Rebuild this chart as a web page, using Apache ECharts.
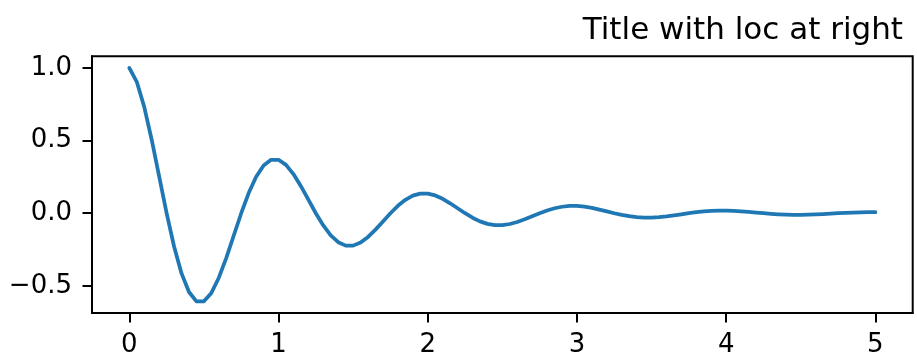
<!DOCTYPE html>
<html>
<head>
<meta charset="utf-8">
<script src="https://cdn.jsdelivr.net/npm/echarts@6/dist/echarts.min.js"></script>
<style>
html,body{margin:0;padding:0;background:#fff;}
#chart{width:917px;height:358px;}
</style>
</head>
<body>
<div id="chart"></div>
<script>
var titleText = 'Title with loc at right';
var xs = [0, 0.05, 0.1, 0.15, 0.2, 0.25, 0.3, 0.35, 0.4, 0.45, 0.5, 0.55, 0.6, 0.65, 0.7, 0.75, 0.8, 0.85, 0.9, 0.95,
  1, 1.05, 1.1, 1.15, 1.2, 1.25, 1.3, 1.35, 1.4, 1.45, 1.5, 1.55, 1.6, 1.65, 1.7, 1.75, 1.8, 1.85, 1.9, 1.95,
  2, 2.05, 2.1, 2.15, 2.2, 2.25, 2.3, 2.35, 2.4, 2.45, 2.5, 2.55, 2.6, 2.65, 2.7, 2.75, 2.8, 2.85, 2.9, 2.95,
  3, 3.05, 3.1, 3.15, 3.2, 3.25, 3.3, 3.35, 3.4, 3.45, 3.5, 3.55, 3.6, 3.65, 3.7, 3.75, 3.8, 3.85, 3.9, 3.95,
  4, 4.05, 4.1, 4.15, 4.2, 4.25, 4.3, 4.35, 4.4, 4.45, 4.5, 4.55, 4.6, 4.65, 4.7, 4.75, 4.8, 4.85, 4.9, 4.95, 5];
var ys = [1, 0.9047, 0.7320, 0.5059, 0.2530, 0, -0.2289, -0.4142, -0.5423, -0.6064, -0.6065, -0.5487, -0.4440, -0.3069, -0.1535, 0, 0.1389, 0.2512, 0.3289, 0.3678,
  0.3679, 0.3328, 0.2693, 0.1861, 0.0931, 0, -0.0842, -0.1524, -0.1995, -0.2231, -0.2231, -0.2019, -0.1633, -0.1129, -0.0565, 0, 0.0511, 0.0924, 0.1210, 0.1353,
  0.1353, 0.1224, 0.0991, 0.0685, 0.0342, 0, -0.0310, -0.0561, -0.0734, -0.0821, -0.0821, -0.0743, -0.0601, -0.0415, -0.0208, 0, 0.0188, 0.0340, 0.0445, 0.0498,
  0.0498, 0.0450, 0.0365, 0.0252, 0.0126, 0, -0.0114, -0.0206, -0.0270, -0.0302, -0.0302, -0.0273, -0.0221, -0.0153, -0.0076, 0, 0.0069, 0.0125, 0.0164, 0.0183,
  0.0183, 0.0166, 0.0134, 0.0093, 0.0046, 0, -0.0042, -0.0076, -0.0099, -0.0111, -0.0111, -0.0101, -0.0081, -0.0056, -0.0028, 0, 0.0025, 0.0046, 0.0060, 0.0067, 0.0067];
var xTicks = [0, 1, 2, 3, 4, 5];
var yTicks = [-0.5, 0, 0.5, 1.0];
var xRange = [-0.25, 5.25];
var yRange = [-0.6869, 1.0803];

var data = xs.map(function (x, i) { return [x, ys[i]]; });
var font = 'DejaVu Sans';

var chart = echarts.init(document.getElementById('chart'), null, {renderer: 'canvas'});
chart.setOption({
  animation: false,
  backgroundColor: '#ffffff',
  title: {
    text: titleText,
    right: 9,
    top: 10,
    textStyle: {fontFamily: font, fontSize: 31, fontWeight: 'normal', color: '#000'}
  },
  grid: {
    left: 92, right: 4.3, top: 56.3, bottom: 43,
    show: true, borderColor: '#000', borderWidth: 2, backgroundColor: 'transparent'
  },
  xAxis: {
    type: 'value',
    min: xRange[0], max: xRange[1],
    splitLine: {show: false},
    axisLine: {show: true, onZero: false, lineStyle: {color: '#000', width: 2}},
    axisTick: {show: true, customValues: xTicks, length: 9.5, lineStyle: {color: '#000', width: 2}},
    axisLabel: {customValues: xTicks, margin: 19, fontFamily: font, fontSize: 26, color: '#000',
      formatter: function (v) { return String(v); }}
  },
  yAxis: {
    type: 'value',
    min: yRange[0], max: yRange[1],
    splitLine: {show: false},
    axisLine: {show: true, onZero: false, lineStyle: {color: '#000', width: 2}},
    axisTick: {show: true, customValues: yTicks, length: 9.5, lineStyle: {color: '#000', width: 2}},
    axisLabel: {customValues: yTicks, margin: 20, fontFamily: font, fontSize: 26, color: '#000',
      formatter: function (v) { return v.toFixed(1).replace('-', '\u2212'); }}
  },
  series: [{
    type: 'line',
    data: data,
    showSymbol: false,
    smooth: false,
    lineStyle: {color: '#1f77b4', width: 3.75, cap: 'round', join: 'round'},
    itemStyle: {color: '#1f77b4'}
  }]
});
</script>
</body>
</html>
